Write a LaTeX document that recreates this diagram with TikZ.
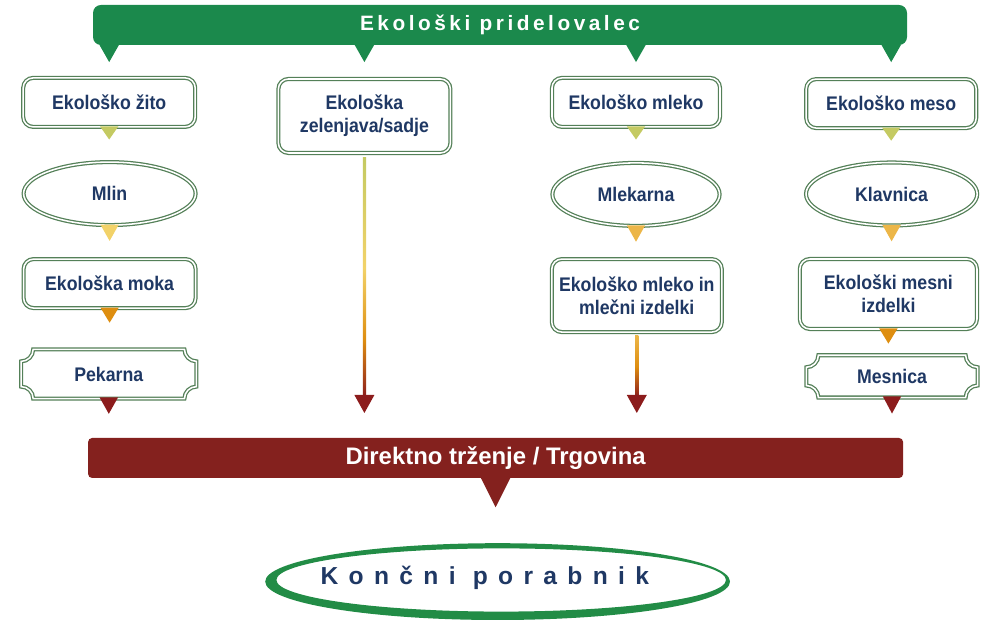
\documentclass[tikz,border=0pt]{standalone}
\usepackage{fontspec}
\setmainfont{Liberation Sans}
\newfontfamily\narrowfont[FakeStretch=0.9]{Liberation Sans}
\usetikzlibrary{shapes.geometric}

\definecolor{farmgreen}{RGB}{27,137,76}
\definecolor{marketred}{RGB}{132,33,30}
\definecolor{framegreen}{RGB}{84,128,88}
\definecolor{inkblue}{RGB}{31,56,100}
\definecolor{droplime}{RGB}{196,202,98}
\definecolor{dropyellow}{RGB}{242,210,105}
\definecolor{dropamber}{RGB}{236,182,72}
\definecolor{droporange}{RGB}{222,142,16}
\definecolor{dropred}{RGB}{140,28,28}
\definecolor{brushgreen}{RGB}{34,140,70}

\pgfdeclareverticalshading{flowlong}{100bp}{color(0bp)=(dropred); color(25bp)=(dropred); color(37bp)=(droporange); color(52bp)=(dropyellow); color(75bp)=(droplime); color(100bp)=(droplime)}
\pgfdeclareverticalshading{flowshort}{100bp}{color(0bp)=(dropred); color(25bp)=(dropred); color(50bp)=(droporange); color(75bp)=(dropamber); color(100bp)=(dropamber)}

\begin{document}
\begin{tikzpicture}[
    frame/.style={draw=framegreen, double=white, line width=0.9pt, double distance=1.1pt,
      fill=white, text=inkblue, align=center, inner sep=0pt,
      font=\narrowfont\bfseries\fontsize{14}{16.5}\selectfont,
      minimum width=4.3cm, minimum height=1.225cm},
    stage/.style={frame, rectangle, rounded corners=0.25cm},
    plant/.style={frame, ellipse, minimum height=1.575cm},
    shop/.style={frame, draw=none, minimum height=1.2cm},
    banner/.style={text=white, inner sep=0pt, minimum height=1cm}]
  \useasboundingbox (0,0) rectangle (24.8,15.6);

  % Producer banner
  \node[banner, fill=farmgreen, rounded corners=0.2cm, minimum width=20.35cm,
    font=\bfseries\fontsize{14.8}{17}\selectfont] (farmer) at (12.5,14.975)
    {\addfontfeature{LetterSpace=17}Ekološki pridelovalec};

  % Grain
  \node[stage] (zito) at (2.73,13.04) {Ekološko žito};
  \node[plant] (mlin) at (2.74,10.76) {Mlin};
  \node[stage] (moka) at (2.74,8.51) {Ekološka moka};
  \node[shop, minimum width=4.35cm] (pekarna) at (2.72,6.25) {Pekarna};

  % Vegetables and fruit
  \node[stage, minimum height=1.85cm] (veg) at (9.11,12.7) {Ekološka\\zelenjava/sadje};

  % Milk
  \node[stage, minimum width=4.2cm] (mleko) at (15.9,13.04) {Ekološko mleko};
  \node[plant, minimum width=4.18cm] (mlekarna) at (15.9,10.74) {Mlekarna};
  \node[stage, minimum width=4.25cm, minimum height=1.825cm] (izdelki) at (15.92,8.21)
    {Ekološko mleko in\\mlečni izdelki};

  % Meat
  \node[stage, minimum width=4.25cm] (meso) at (22.28,13.01) {Ekološko meso};
  \node[plant, minimum width=4.28cm] (klavnica) at (22.29,10.75) {Klavnica};
  \node[stage, minimum width=4.43cm, minimum height=1.75cm] (mesni) at (22.21,8.25)
    {Ekološki mesni\\izdelki};
  \node[shop, minimum width=4.25cm, minimum height=1.025cm] (mesnica) at (22.3,6.19) {Mesnica};

  % Plaque frames of the shops
  \foreach \n in {pekarna,mesnica}
    \draw[draw=framegreen, double=white, line width=0.9pt, double distance=1.1pt]
      ([xshift=0.3cm]\n.north west) -- ([xshift=-0.3cm]\n.north east)
      arc[start angle=180, end angle=270, radius=0.3cm] -- ([yshift=0.3cm]\n.south east)
      arc[start angle=90, end angle=180, radius=0.3cm] -- ([xshift=0.3cm]\n.south west)
      arc[start angle=0, end angle=90, radius=0.3cm] -- ([yshift=-0.3cm]\n.north west)
      arc[start angle=270, end angle=360, radius=0.3cm] -- cycle;

  % Market banner
  \node[banner, fill=marketred, rounded corners=0.1cm, minimum width=20.375cm,
    font=\bfseries\fontsize{17}{20}\selectfont] (market) at (12.39,4.15)
    {Direktno trženje / Trgovina};

  % Banner pointers
  \foreach \n in {zito,veg,mleko,meso}
    \fill[farmgreen] (farmer.south -| \n.north) ++(-0.25,0.02) -- ++(0.5,0) -- ++(-0.25,-0.44) -- cycle;
  \fill[marketred] (market.south) ++(-0.375,0.02) -- ++(0.75,0) -- ++(-0.375,-0.745) -- cycle;

  % Steps between the stages
  \foreach \n/\c/\h in {zito/droplime/0.3, mleko/droplime/0.3, meso/droplime/0.3,
      mlin/dropyellow/0.38, mlekarna/dropamber/0.38, klavnica/dropamber/0.38,
      moka/droporange/0.35, mesni/droporange/0.35,
      pekarna/dropred/0.38, mesnica/dropred/0.4}
    \fill[\c] (\n.south) ++(-0.23,0.03) -- ++(0.46,0) -- ++(-0.23,-\h-0.03) -- cycle;

  % Long flows down to the market
  \coordinate (vegend) at (9.11,5.275);
  \coordinate (izdend) at (15.92,5.275);
  \shade[shading=flowlong] ([xshift=-0.04cm,yshift=-0.1cm]veg.south) rectangle ([xshift=0.04cm,yshift=0.4cm]vegend);
  \fill[dropred] (vegend) -- ++(-0.25,0.45) -- ++(0.5,0) -- cycle;
  \shade[shading=flowshort] ([xshift=-0.04cm,yshift=-0.08cm]izdelki.south) rectangle ([xshift=0.04cm,yshift=0.4cm]izdend);
  \fill[dropred] (izdend) -- ++(-0.25,0.45) -- ++(0.5,0) -- cycle;

  % Final consumer
  \fill[brushgreen, even odd rule] (12.44,1.06) ellipse [x radius=5.81, y radius=0.96]
    (12.53,1.1) ellipse [x radius=5.62, y radius=0.79];
  \node[text=inkblue, font=\bfseries\fontsize{17.5}{20}\selectfont] (consumer) at (12.12,1.15)
    {\addfontfeature{LetterSpace=42}Končni porabnik};
\end{tikzpicture}
\end{document}
